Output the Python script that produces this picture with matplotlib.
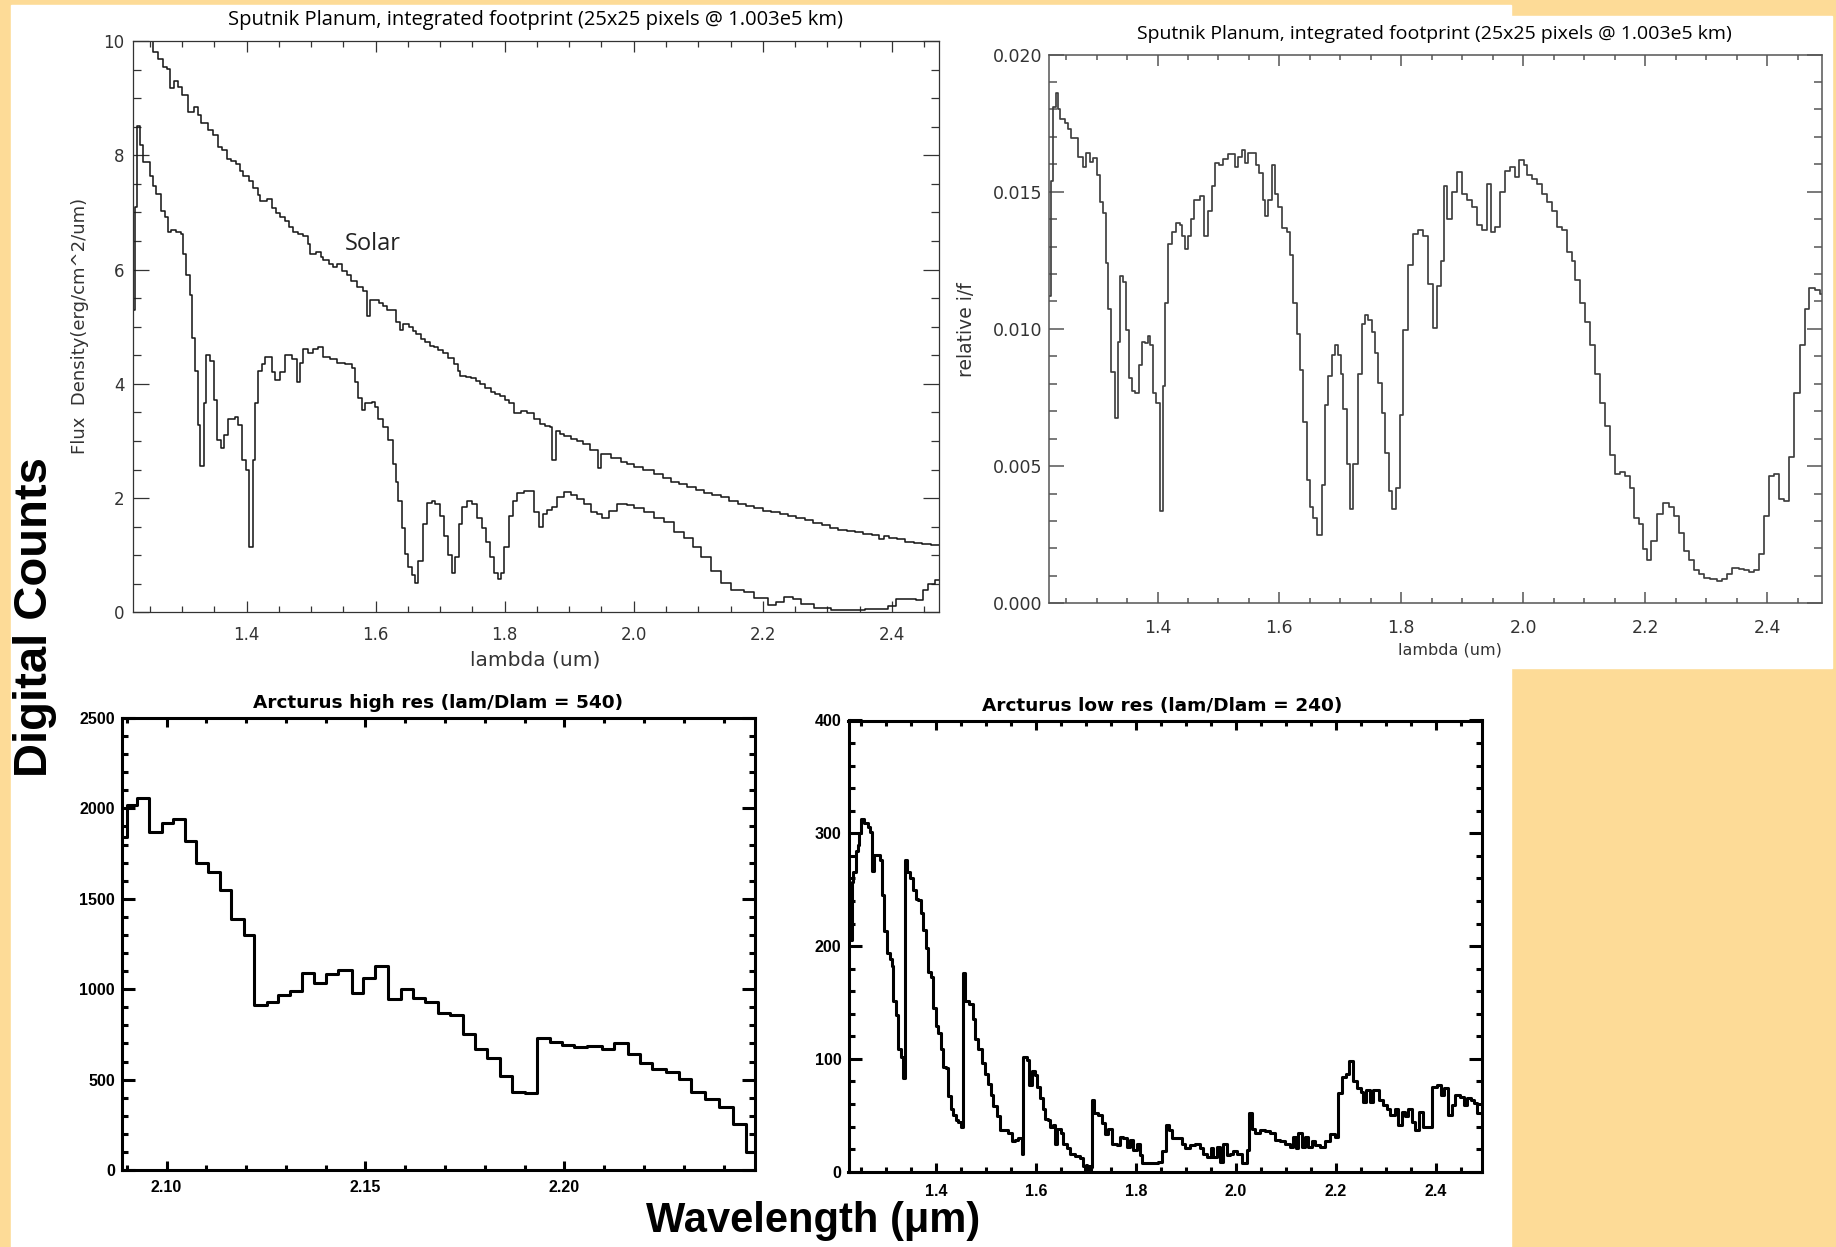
"""
    composite of Pluto / Arcturus spectra panels
"""

import numpy as np
import matplotlib.pyplot as plt
from matplotlib.ticker import MultipleLocator, FormatStrFormatter
from matplotlib.patches import Rectangle

W, H = 1836, 1247
ORANGE = '#FDDB97'

# ---- top left: solar and Sputnik Planum flux density (step left edges, um)
SOLAR_WL = [1.224, 1.236, 1.247, 1.255, 1.263, 1.270, 1.276, 1.281, 1.287, 1.293,
            1.300, 1.309, 1.318, 1.324, 1.330, 1.340, 1.348, 1.356, 1.362, 1.369,
            1.376, 1.384, 1.390, 1.395, 1.403, 1.410, 1.418, 1.421, 1.432, 1.440,
            1.446, 1.452, 1.459, 1.466, 1.472, 1.480, 1.488, 1.495, 1.498, 1.508,
            1.515, 1.519, 1.527, 1.534, 1.540, 1.548, 1.555, 1.562, 1.571, 1.580,
            1.586, 1.591, 1.605, 1.612, 1.618, 1.625, 1.631, 1.638, 1.643, 1.652,
            1.658, 1.663, 1.670, 1.676, 1.684, 1.690, 1.697, 1.705, 1.712, 1.721,
            1.727, 1.731, 1.740, 1.747, 1.755, 1.762, 1.770, 1.778, 1.785, 1.793,
            1.800, 1.806, 1.814, 1.826, 1.834, 1.845, 1.855, 1.862, 1.870, 1.874,
            1.879, 1.886, 1.892, 1.903, 1.912, 1.921, 1.932, 1.944, 1.949, 1.965,
            1.980, 1.990, 2.000, 2.015, 2.031, 2.045, 2.057, 2.070, 2.083, 2.096,
            2.109, 2.122, 2.135, 2.148, 2.161, 2.174, 2.187, 2.200, 2.213, 2.226,
            2.239, 2.252, 2.265, 2.278, 2.291, 2.304, 2.317, 2.330, 2.343, 2.356,
            2.369, 2.380, 2.388, 2.395, 2.408, 2.421, 2.434, 2.447, 2.460]
SOLAR_FLUX = [10.50, 10.25, 10.00, 9.80, 9.68, 9.55, 9.51, 9.17, 9.30, 9.20,
              9.05, 8.76, 8.85, 8.70, 8.56, 8.45, 8.35, 8.15, 8.10, 7.94,
              7.90, 7.84, 7.72, 7.64, 7.55, 7.43, 7.30, 7.20, 7.23, 7.08,
              6.99, 6.92, 6.85, 6.74, 6.65, 6.62, 6.58, 6.45, 6.28, 6.31,
              6.22, 6.17, 6.10, 6.04, 6.10, 5.98, 5.90, 5.80, 5.70, 5.63,
              5.19, 5.46, 5.42, 5.36, 5.30, 5.29, 5.09, 4.95, 5.05, 5.00,
              4.92, 4.88, 4.78, 4.74, 4.66, 4.64, 4.60, 4.54, 4.45, 4.34,
              4.22, 4.13, 4.12, 4.10, 4.05, 4.00, 3.92, 3.86, 3.82, 3.79,
              3.72, 3.66, 3.49, 3.52, 3.49, 3.38, 3.30, 3.26, 3.25, 2.67,
              3.18, 3.12, 3.08, 3.04, 3.00, 2.94, 2.84, 2.53, 2.77, 2.70,
              2.63, 2.59, 2.55, 2.49, 2.43, 2.35, 2.29, 2.24, 2.19, 2.14,
              2.09, 2.06, 2.02, 1.95, 1.89, 1.86, 1.82, 1.78, 1.75, 1.72,
              1.68, 1.65, 1.61, 1.57, 1.53, 1.48, 1.44, 1.43, 1.41, 1.38,
              1.35, 1.29, 1.33, 1.31, 1.28, 1.24, 1.21, 1.19, 1.18]

PLUTO_WL = [1.2240, 1.2266, 1.2302, 1.2343, 1.2395, 1.2499, 1.2550, 1.2602, 1.2680, 1.2732,
            1.2783, 1.2835, 1.2913, 1.2990, 1.3016, 1.3068, 1.3120, 1.3161, 1.3208, 1.3249,
            1.3285, 1.3337, 1.3378, 1.3440, 1.3492, 1.3534, 1.3596, 1.3648, 1.3715, 1.3818,
            1.3870, 1.3922, 1.3984, 1.4036, 1.4093, 1.4129, 1.4180, 1.4232, 1.4284, 1.4387,
            1.4439, 1.4517, 1.4594, 1.4698, 1.4776, 1.4827, 1.4879, 1.4957, 1.5034, 1.5112,
            1.5189, 1.5293, 1.5397, 1.5526, 1.5629, 1.5681, 1.5733, 1.5785, 1.5836, 1.5940,
            1.5992, 1.6043, 1.6121, 1.6199, 1.6266, 1.6318, 1.6354, 1.6406, 1.6457, 1.6509,
            1.6561, 1.6613, 1.6664, 1.6732, 1.6794, 1.6871, 1.6923, 1.6990, 1.7052, 1.7120,
            1.7182, 1.7234, 1.7285, 1.7337, 1.7415, 1.7492, 1.7570, 1.7647, 1.7715, 1.7766,
            1.7829, 1.7891, 1.7942, 1.7994, 1.8061, 1.8129, 1.8191, 1.8294, 1.8452, 1.8530,
            1.8597, 1.8659, 1.8737, 1.8814, 1.8918, 1.9021, 1.9125, 1.9228, 1.9332, 1.9435,
            1.9513, 1.9617, 1.9746, 1.9901, 2.0005, 2.0160, 2.0315, 2.0471, 2.0626, 2.0781,
            2.0911, 2.1040, 2.1195, 2.1350, 2.1506, 2.1713, 2.1868, 2.2075, 2.2204, 2.2334,
            2.2463, 2.2593, 2.2800, 2.3058, 2.3576, 2.3938, 2.4068, 2.4378, 2.4482, 2.4560,
            2.4663]
PLUTO_FLUX = [5.30, 7.10, 8.52, 8.18, 7.88, 7.64, 7.47, 7.33, 7.03, 6.92,
              6.65, 6.70, 6.65, 6.62, 6.28, 5.90, 5.56, 4.81, 4.23, 3.28,
              2.57, 3.66, 4.51, 4.40, 3.72, 3.01, 2.87, 3.11, 3.38, 3.42,
              3.28, 2.67, 2.50, 1.14, 2.67, 3.66, 4.23, 4.34, 4.47, 4.20,
              4.06, 4.20, 4.51, 4.44, 4.03, 4.37, 4.61, 4.54, 4.61, 4.64,
              4.47, 4.44, 4.37, 4.34, 4.27, 4.03, 3.76, 3.55, 3.66, 3.69,
              3.59, 3.38, 3.25, 3.01, 2.60, 2.29, 1.95, 1.48, 1.03, 0.80,
              0.66, 0.52, 0.90, 1.55, 1.92, 1.95, 1.89, 1.68, 1.34, 1.00,
              0.69, 0.97, 1.55, 1.85, 1.95, 1.89, 1.65, 1.48, 1.24, 0.97,
              0.69, 0.59, 0.69, 1.14, 1.68, 1.95, 2.09, 2.12, 1.75, 1.49,
              1.72, 1.80, 1.85, 2.02, 2.10, 2.06, 1.99, 1.89, 1.75, 1.72,
              1.65, 1.78, 1.89, 1.88, 1.82, 1.75, 1.65, 1.58, 1.41, 1.31,
              1.14, 0.97, 0.73, 0.52, 0.40, 0.35, 0.25, 0.13, 0.18, 0.27,
              0.24, 0.15, 0.08, 0.05, 0.06, 0.12, 0.24, 0.22, 0.39, 0.49,
              0.56]

# ---- top right: relative I/F
IF_WL = [1.2220, 1.2258, 1.2286, 1.2329, 1.2368, 1.2395, 1.2477, 1.2532, 1.2587, 1.2696,
         1.2778, 1.2833, 1.2888, 1.2942, 1.3014, 1.3052, 1.3107, 1.3150, 1.3194, 1.3244,
         1.3298, 1.3348, 1.3391, 1.3435, 1.3490, 1.3528, 1.3583, 1.3638, 1.3692, 1.3747,
         1.3802, 1.3846, 1.3884, 1.3928, 1.3982, 1.4037, 1.4092, 1.4130, 1.4174, 1.4240,
         1.4300, 1.4366, 1.4409, 1.4448, 1.4502, 1.4557, 1.4601, 1.4694, 1.4765, 1.4831,
         1.4886, 1.4940, 1.5011, 1.5077, 1.5159, 1.5269, 1.5323, 1.5378, 1.5433, 1.5488,
         1.5614, 1.5668, 1.5723, 1.5761, 1.5816, 1.5871, 1.5926, 1.5980, 1.6035, 1.6117,
         1.6172, 1.6227, 1.6281, 1.6336, 1.6391, 1.6446, 1.6500, 1.6555, 1.6610, 1.6692,
         1.6747, 1.6801, 1.6856, 1.6911, 1.6966, 1.7009, 1.7048, 1.7102, 1.7157, 1.7212,
         1.7294, 1.7349, 1.7403, 1.7458, 1.7513, 1.7568, 1.7622, 1.7677, 1.7732, 1.7803,
         1.7841, 1.7912, 1.7978, 1.8033, 1.8115, 1.8197, 1.8279, 1.8362, 1.8444, 1.8515,
         1.8581, 1.8646, 1.8701, 1.8756, 1.8827, 1.8909, 1.8991, 1.9073, 1.9155, 1.9237,
         1.9320, 1.9402, 1.9467, 1.9538, 1.9621, 1.9703, 1.9785, 1.9867, 1.9922, 2.0004,
         2.0059, 2.0141, 2.0223, 2.0305, 2.0387, 2.0469, 2.0551, 2.0633, 2.0715, 2.0797,
         2.0852, 2.0934, 2.1016, 2.1098, 2.1181, 2.1263, 2.1345, 2.1427, 2.1498, 2.1591,
         2.1673, 2.1744, 2.1810, 2.1892, 2.1963, 2.2029, 2.2100, 2.2193, 2.2292, 2.2385,
         2.2467, 2.2549, 2.2631, 2.2713, 2.2795, 2.2877, 2.2959, 2.3069, 2.3178, 2.3260,
         2.3343, 2.3425, 2.3534, 2.3616, 2.3698, 2.3781, 2.3863, 2.3945, 2.4027, 2.4109,
         2.4191, 2.4273, 2.4355, 2.4437, 2.4547, 2.4629, 2.4684, 2.4793, 2.4875]
IF_VAL = [0.01120, 0.01540, 0.01810, 0.01860, 0.01800, 0.01765, 0.01751, 0.01730, 0.01695, 0.01625,
          0.01590, 0.01640, 0.01610, 0.01622, 0.01560, 0.01464, 0.01422, 0.01240, 0.01073, 0.00842,
          0.00674, 0.00954, 0.01192, 0.01170, 0.00996, 0.00821, 0.00772, 0.00765, 0.00870, 0.00954,
          0.00950, 0.00975, 0.00940, 0.00765, 0.00730, 0.00338, 0.00793, 0.01094, 0.01310, 0.01352,
          0.01387, 0.01380, 0.01338, 0.01290, 0.01338, 0.01401, 0.01471, 0.01485, 0.01338, 0.01429,
          0.01520, 0.01604, 0.01597, 0.01618, 0.01639, 0.01590, 0.01625, 0.01653, 0.01604, 0.01642,
          0.01597, 0.01569, 0.01471, 0.01413, 0.01471, 0.01597, 0.01492, 0.01443, 0.01366, 0.01352,
          0.01268, 0.01094, 0.00982, 0.00849, 0.00660, 0.00450, 0.00350, 0.00310, 0.00248, 0.00430,
          0.00723, 0.00828, 0.00905, 0.00943, 0.00905, 0.00835, 0.00709, 0.00506, 0.00345, 0.00506,
          0.00835, 0.01017, 0.01052, 0.01031, 0.00989, 0.00912, 0.00803, 0.00695, 0.00548, 0.00408,
          0.00345, 0.00422, 0.00688, 0.00996, 0.01234, 0.01345, 0.01359, 0.01338, 0.01164, 0.01003,
          0.01157, 0.01248, 0.01520, 0.01401, 0.01500, 0.01572, 0.01492, 0.01471, 0.01443, 0.01380,
          0.01359, 0.01527, 0.01352, 0.01373, 0.01500, 0.01576, 0.01590, 0.01555, 0.01614, 0.01597,
          0.01562, 0.01548, 0.01527, 0.01492, 0.01464, 0.01429, 0.01373, 0.01359, 0.01282, 0.01248,
          0.01178, 0.01094, 0.01024, 0.00940, 0.00835, 0.00730, 0.00646, 0.00541, 0.00471, 0.00478,
          0.00464, 0.00422, 0.00310, 0.00290, 0.00199, 0.00157, 0.00227, 0.00324, 0.00366, 0.00352,
          0.00317, 0.00255, 0.00192, 0.00157, 0.00122, 0.00108, 0.00094, 0.00090, 0.00080, 0.00087,
          0.00108, 0.00129, 0.00126, 0.00122, 0.00115, 0.00122, 0.00178, 0.00317, 0.00464, 0.00471,
          0.00380, 0.00373, 0.00534, 0.00765, 0.00940, 0.01073, 0.01150, 0.01143, 0.01129]

# ---- bottom left: Arcturus high res
HIRES_WL = [2.0888, 2.0900, 2.0925, 2.0956, 2.0988, 2.1016, 2.1046, 2.1075, 2.1104, 2.1134,
            2.1163, 2.1194, 2.1221, 2.1253, 2.1281, 2.1310, 2.1340, 2.1371, 2.1400, 2.1431,
            2.1465, 2.1494, 2.1525, 2.1556, 2.1588, 2.1619, 2.1650, 2.1681, 2.1713, 2.1744,
            2.1775, 2.1806, 2.1838, 2.1869, 2.1900, 2.1931, 2.1963, 2.1994, 2.2025, 2.2056,
            2.2094, 2.2125, 2.2159, 2.2191, 2.2221, 2.2256, 2.2288, 2.2319, 2.2354, 2.2388,
            2.2423, 2.2456]
HIRES_DN = [1840, 2020, 2060, 1870, 1920, 1940, 1820, 1700, 1650, 1550,
            1390, 1300, 910, 930, 970, 990, 1090, 1034, 1086, 1104,
            980, 1060, 1130, 946, 1000, 954, 930, 870, 860, 750,
            670, 620, 520, 434, 426, 730, 710, 694, 680, 686,
            670, 700, 640, 594, 560, 540, 504, 430, 394, 350,
            254, 100]
HIRES_END = 2.2469

# ---- bottom right: Arcturus low res
LORES_WL = [1.2250, 1.2313, 1.2347, 1.2393, 1.2433, 1.2467, 1.2500, 1.2567, 1.2633, 1.2680,
            1.2713, 1.2760, 1.2880, 1.2913, 1.2960, 1.3013, 1.3080, 1.3113, 1.3147, 1.3200,
            1.3247, 1.3300, 1.3347, 1.3380, 1.3427, 1.3480, 1.3533, 1.3593, 1.3647, 1.3693,
            1.3747, 1.3800, 1.3847, 1.3900, 1.3947, 1.3993, 1.4047, 1.4093, 1.4147, 1.4200,
            1.4247, 1.4300, 1.4347, 1.4400, 1.4447, 1.4493, 1.4533, 1.4580, 1.4667, 1.4747,
            1.4780, 1.4847, 1.4913, 1.4980, 1.5033, 1.5093, 1.5147, 1.5213, 1.5280, 1.5447,
            1.5513, 1.5580, 1.5647, 1.5713, 1.5747, 1.5813, 1.5867, 1.5913, 1.5980, 1.6027,
            1.6080, 1.6133, 1.6180, 1.6233, 1.6280, 1.6347, 1.6380, 1.6427, 1.6493, 1.6547,
            1.6613, 1.6680, 1.6780, 1.6880, 1.6947, 1.6975, 1.6995, 1.7020, 1.7045, 1.7070,
            1.7090, 1.7113, 1.7160, 1.7247, 1.7313, 1.7380, 1.7447, 1.7513, 1.7613, 1.7680,
            1.7747, 1.7813, 1.7880, 1.7947, 1.8013, 1.8080, 1.8113, 1.8447, 1.8513, 1.8600,
            1.8667, 1.8713, 1.8913, 1.8980, 1.9080, 1.9180, 1.9280, 1.9347, 1.9427, 1.9493,
            1.9547, 1.9613, 1.9680, 1.9747, 1.9813, 1.9880, 1.9947, 2.0027, 2.0113, 2.0213,
            2.0260, 2.0313, 2.0380, 2.0480, 2.0580, 2.0680, 2.0780, 2.0880, 2.0980, 2.1080,
            2.1147, 2.1200, 2.1247, 2.1313, 2.1380, 2.1447, 2.1513, 2.1580, 2.1680, 2.1780,
            2.1880, 2.1980, 2.2047, 2.2113, 2.2200, 2.2267, 2.2333, 2.2413, 2.2493, 2.2547,
            2.2600, 2.2680, 2.2733, 2.2867, 2.2933, 2.3013, 2.3080, 2.3180, 2.3247, 2.3313,
            2.3380, 2.3447, 2.3513, 2.3580, 2.3667, 2.3733, 2.3913, 2.4013, 2.4093, 2.4160,
            2.4247, 2.4313, 2.4380, 2.4480, 2.4560, 2.4627, 2.4693, 2.4760, 2.4813]
LORES_DN = [205, 257, 266, 284, 290, 300, 313, 309, 306, 301,
            267, 281, 276, 245, 213, 194, 189, 182, 151, 139,
            109, 102, 83, 276, 266, 260, 250, 242, 241, 229,
            214, 198, 177, 173, 145, 129, 123, 109, 93, 92,
            67, 56, 50, 46, 44, 40, 176, 151, 149, 135,
            118, 109, 96, 87, 78, 68, 58, 49, 37, 34,
            27, 28, 30, 16, 102, 99, 77, 89, 86, 75,
            65, 56, 47, 46, 40, 41, 25, 38, 34, 25,
            21, 16, 14, 12, 5, 0, 6, 0, 5, 0,
            4, 64, 52, 50, 43, 33, 38, 25, 24, 31,
            30, 22, 28, 19, 25, 15, 8, 9, 18, 41,
            37, 30, 25, 21, 24, 25, 21, 16, 13, 21,
            13, 22, 9, 25, 15, 16, 18, 16, 8, 19,
            52, 38, 34, 37, 36, 34, 28, 27, 25, 22,
            31, 21, 34, 22, 31, 22, 27, 24, 22, 27,
            33, 31, 70, 84, 87, 98, 80, 74, 71, 62,
            72, 62, 72, 64, 59, 56, 50, 56, 41, 53,
            49, 56, 44, 37, 53, 40, 75, 77, 68, 74,
            50, 59, 68, 66, 59, 65, 64, 61, 52]

TITLE_SP = 'Sputnik Planum, integrated footprint (25x25 pixels @ 1.003e5 km)'
SANS = ['Open Sans', 'DejaVu Sans']


def box(l, t, r, b):
    return [l / W, 1 - b / H, (r - l) / W, (b - t) / H]


def ftext(x, y, s, **kw):
    fig.text(x / W, 1 - y / H, s, ha='center', va='center', **kw)


def steps(ax, x, y, xend, **kw):
    xs = np.append(x, xend)
    ys = np.append(y, y[-1])
    ax.step(xs, ys, where='post', **kw)


def style(ax, xlim, ylim, xt, yt, xfmt, yfmt, xlen, ylen, lw, col, xpad, ypad):
    ax.set_xlim(*xlim)
    ax.set_ylim(*ylim)
    ax.xaxis.set_major_locator(MultipleLocator(xt[0]))
    ax.xaxis.set_minor_locator(MultipleLocator(xt[1]))
    ax.yaxis.set_major_locator(MultipleLocator(yt[0]))
    ax.yaxis.set_minor_locator(MultipleLocator(yt[1]))
    ax.xaxis.set_major_formatter(FormatStrFormatter(xfmt))
    ax.yaxis.set_major_formatter(FormatStrFormatter(yfmt))
    ax.tick_params(which='both', direction='in', top=True, right=True,
                   width=lw, color=col)
    ax.tick_params(axis='x', which='major', length=xlen, pad=xpad)
    ax.tick_params(axis='x', which='minor', length=xlen / 2)
    ax.tick_params(axis='y', which='major', length=ylen, pad=ypad)
    ax.tick_params(axis='y', which='minor', length=ylen / 2)
    for s in ax.spines.values():
        s.set_linewidth(lw)
        s.set_color(col)


fig = plt.figure(figsize=(W / 100, H / 100), dpi=100, facecolor=ORANGE)
# white paste-up areas behind the panels
fig.patches.append(Rectangle((11 / W, 0), (1511 - 11) / W, 1 - 5 / H,
                             transform=fig.transFigure, color='white', zorder=-5))
fig.patches.append(Rectangle((1511 / W, 1 - 668 / H), (1832 - 1511) / W, (668 - 16) / H,
                             transform=fig.transFigure, color='white', zorder=-5))

# top left
ax1 = fig.add_axes(box(133, 41, 939, 612.5))
steps(ax1, SOLAR_WL, SOLAR_FLUX, 2.473, color='#1a1a1a', lw=1.15)
steps(ax1, PLUTO_WL, PLUTO_FLUX, 2.473, color='#1a1a1a', lw=1.15)
style(ax1, (1.224, 2.473), (0, 10), (0.2, 0.05), (2, 0.5), '%.1f', '%d',
      8.2, 11.6, 0.9, '#333333', 10, 6)
ax1.tick_params(labelsize=12, labelcolor='#333333', labelfontfamily='DejaVu Sans')
ax1.text(1.552, 6.45, 'Solar', fontsize=17, family=SANS,
         color='#222222', ha='left', va='center')
ftext(536, 20, TITLE_SP, fontsize=14.5, family=SANS, color='black')
ftext(535, 660, 'lambda (um)', fontsize=14.5, color='#333333')
ftext(80, 326, 'Flux  Density(erg/cm^2/um)', fontsize=13, color='#333333', rotation=90)

# top right
ax2 = fig.add_axes(box(1049, 54.5, 1822, 603.3))
steps(ax2, IF_WL, IF_VAL, 2.490, color='#404040', lw=1.25)
style(ax2, (1.222, 2.490), (0, 0.020), (0.2, 0.05), (0.005, 0.001), '%.1f', '%.3f',
      7.9, 11.1, 1.1, '#555555', 11, 4.5)
ax2.tick_params(labelsize=12.5, labelcolor='#333333', labelfontfamily='DejaVu Sans')
ftext(1434, 34, TITLE_SP, fontsize=14, family=SANS, color='black')
ftext(1450, 650, 'lambda (um)', fontsize=11.5, color='#333333')
ftext(966, 330, 'relative i/f', fontsize=13.5, color='#333333', rotation=90)

# bottom left
ax3 = fig.add_axes(box(122, 718, 755, 1170))
steps(ax3, HIRES_WL, HIRES_DN, HIRES_END, color='black', lw=2.2)
style(ax3, (2.0888, 2.2479), (0, 2500), (0.05, 0.01), (500, 100), '%.2f', '%d',
      6.5, 9.1, 2.2, 'black', 7, 5)
ftext(438, 703, 'Arcturus high res (lam/Dlam = 540)', fontsize=13.3, fontweight='bold')

# bottom right
ax4 = fig.add_axes(box(848.5, 720.5, 1481.5, 1171.7))
steps(ax4, LORES_WL, LORES_DN, 2.490, color='black', lw=2.2)
style(ax4, (1.225, 2.491), (0, 400), (0.2, 0.05), (100, 20), '%.1f', '%d',
      6.5, 9.1, 2.2, 'black', 9, 5)
ftext(1162, 706, 'Arcturus low res (lam/Dlam = 240)', fontsize=13.3, fontweight='bold')

for ax in (ax3, ax4):
    ax.tick_params(labelsize=11.5, labelfontfamily='Liberation Sans')
    plt.setp(ax.get_xticklabels() + ax.get_yticklabels(), fontweight='bold')

ftext(35, 617, 'Digital Counts', fontsize=34, fontweight='bold',
      family=['Liberation Sans', 'DejaVu Sans'], rotation=90)
ftext(813, 1221, 'Wavelength (\u03bcm)', fontsize=30, fontweight='bold',
      family=['Liberation Sans', 'DejaVu Sans'])

plt.savefig('out.png', dpi=100, facecolor=ORANGE)
